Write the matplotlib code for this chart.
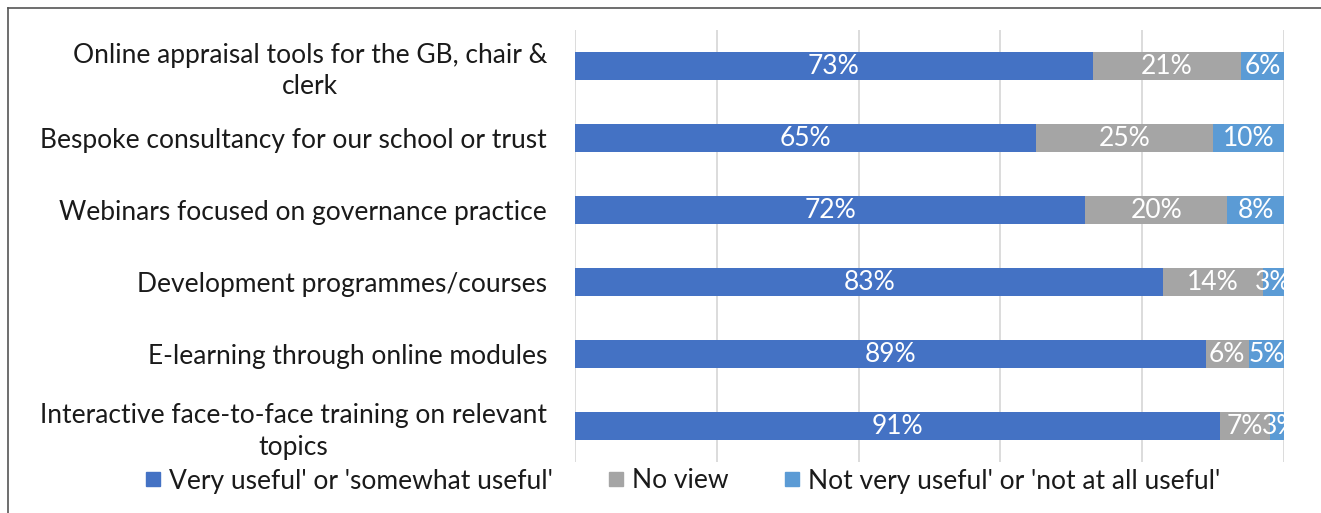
import matplotlib.pyplot as plt
import numpy as np
from matplotlib.lines import Line2D

plt.rcParams['font.family'] = ['Lato', 'DejaVu Sans']

# data (top to bottom as shown)
categories = ["Online appraisal tools for the GB, chair &\nclerk",
              "Bespoke consultancy for our school or trust",
              "Webinars focused on governance practice",
              "Development programmes/courses",
              "E-learning through online modules",
              "Interactive face-to-face training on relevant\ntopics"]
useful = [73, 65, 72, 83, 89, 91]
no_view = [21, 25, 20, 14, 6, 7]
not_useful = [6, 10, 8, 3, 5, 3]

series_names = ["Very useful' or 'somewhat useful'", "No view",
                "Not very useful' or 'not at all useful'"]
colors = ['#4472C4', '#A5A5A5', '#5B9BD5']

fig = plt.figure(figsize=(13.21, 5.13), dpi=100)
ax = fig.add_axes([575 / 1321, 1 - 462 / 513, (1284 - 575) / 1321, 432 / 513])

y = np.arange(len(categories))[::-1]
left = np.zeros(len(categories))
fs = 19
for vals, col in zip([useful, no_view, not_useful], colors):
    vals = np.array(vals, dtype=float)
    ax.barh(y, vals, left=left, height=0.4, color=col, zorder=2)
    for yi, l, v in zip(y, left, vals):
        ax.text(l + v / 2, yi, f"{int(v)}%", ha='center', va='center',
                color='white', fontsize=fs, clip_on=True, zorder=3)
    left += vals

ax.set_xlim(0, 100)
ax.set_ylim(-0.5, len(categories) - 0.5)
ax.set_xticks([0, 20, 40, 60, 80, 100])
ax.xaxis.grid(True, color='#D9D9D9', linewidth=1.3, zorder=0)
ax.tick_params(axis='x', length=0, labelbottom=False)
ax.set_yticks(y)
ax.set_yticklabels(categories, fontsize=fs, color='#1a1a1a')
for t in ax.get_yticklabels():
    t.set_multialignment('center')
    t.set_linespacing(1.3)
ax.tick_params(axis='y', length=0, pad=20)
for s in ax.spines.values():
    s.set_visible(False)

handles = [Line2D([], [], marker='s', linestyle='none', markersize=10,
                  markerfacecolor=c, markeredgecolor=c) for c in colors]
leg = fig.legend(handles, series_names, loc='center', bbox_to_anchor=(0.514, 1 - 481 / 513),
                 ncol=3, frameon=False, handletextpad=0.0, handlelength=1.2,
                 columnspacing=1.8, prop={'size': fs})
for t in leg.get_texts():
    t.set_color('#1a1a1a')

# chart border (left and top edges visible)
fig.add_artist(Line2D([8 / 1321, 8 / 1321], [0, 1 - 8 / 513], transform=fig.transFigure,
                      color='#555555', linewidth=1.2))
fig.add_artist(Line2D([8 / 1321, 1], [1 - 8 / 513, 1 - 8 / 513], transform=fig.transFigure,
                      color='#555555', linewidth=1.2))

fig.savefig('out.png', dpi=100)
